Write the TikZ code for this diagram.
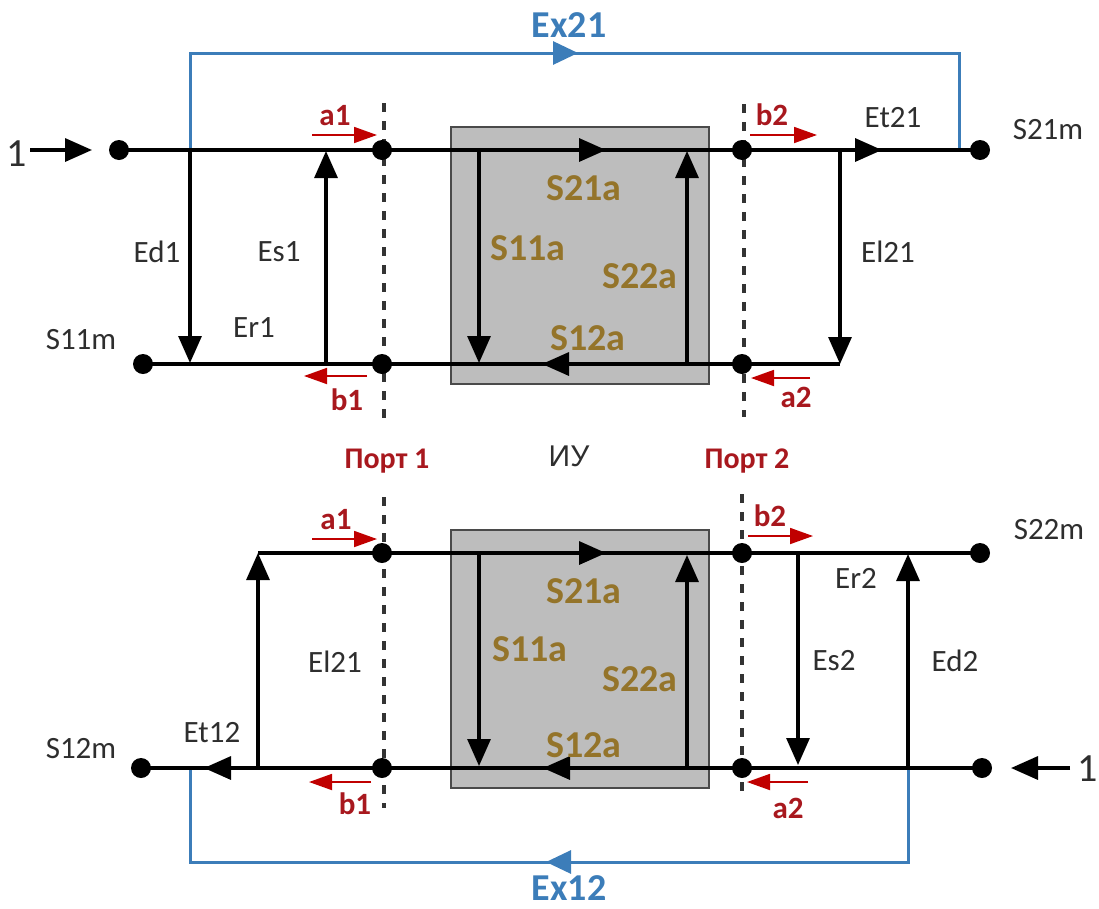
\documentclass[tikz,border=0pt]{standalone}
\usepackage{fontspec}
\setmainfont{Carlito}
\newfontfamily\iufont{Liberation Sans}
\usetikzlibrary{arrows.meta}
\definecolor{brownlab}{HTML}{94742A}
\definecolor{redlab}{HTML}{A8181E}
\definecolor{redarr}{HTML}{C00000}
\definecolor{bluelab}{HTML}{3C7DB9}
\definecolor{boxgray}{HTML}{BDBDBD}
\definecolor{boxedge}{HTML}{4A4A4A}
\definecolor{dashgray}{HTML}{333333}
\tikzset{
  x=1pt,y=-1pt,
  dot/.style={circle,fill=black,inner sep=0pt,minimum size=20pt},
  wire/.style={line width=3.4pt,black},
  thinwire/.style={line width=3.2pt,black},
  bluewire/.style={line width=3pt,bluelab},
  tipb/.style={-{Triangle[length=27pt,width=23pt,inset=0pt]}},
  tipblue/.style={-{Triangle[length=25pt,width=23pt,inset=0pt]}},
  redarrow/.style={line width=1.8pt,redarr,-{Triangle[length=23pt,width=16pt,inset=0pt]}},
  portline/.style={line width=3.2pt,dashgray,dash pattern=on 9pt off 9pt},
  devbox/.style={draw=boxedge,line width=1.6pt,fill=boxgray,inner sep=0pt},
  lab/.style={font=\fontsize{31}{31}\selectfont,text=black!82,inner sep=0pt},
  iulab/.style={font=\iufont\fontsize{30}{30}\selectfont,text=black!82,inner sep=0pt},
  one/.style={font=\fontsize{40}{40}\selectfont,text=black!82,inner sep=0pt},
  slab/.style={font=\fontsize{38}{38}\selectfont\bfseries,text=brownlab,inner sep=0pt},
  rlab/.style={font=\fontsize{31}{31}\selectfont\bfseries,text=redlab,inner sep=0pt},
  plab/.style={font=\fontsize{30}{30}\selectfont\bfseries,text=redlab,inner sep=0pt},
  xlab/.style={font=\fontsize{38}{38}\selectfont\bfseries,text=bluelab,inner sep=0pt},
}
\begin{document}
\begin{tikzpicture}
\useasboundingbox (0,0) rectangle (1099,908);
% device boxes
\node[devbox,minimum width=258pt,minimum height=257pt] (boxA) at (580,255.5) {};
\node[devbox,minimum width=258pt,minimum height=258pt] (boxB) at (580,659) {};
% port lines
\coordinate (pa1) at (384,103); \coordinate (pa2) at (384,422);
\coordinate (pb1) at (744,104); \coordinate (pb2) at (744,417);
\coordinate (pc1) at (384,497); \coordinate (pc2) at (384,808);
\coordinate (pd1) at (742,494); \coordinate (pd2) at (742,799);
\draw[portline] (pa1) -- (pa2);
\draw[portline] (pb1) -- (pb2);
\draw[portline] (pc1) -- (pc2);
\draw[portline] (pd1) -- (pd2);
% TOP dots
\node[dot] (t1) at (119,150) {};
\node[dot] (t2) at (382,150) {};
\node[dot] (t3) at (742,150) {};
\node[dot] (t4) at (980,150) {};
\node[dot] (t5) at (143,364) {};
\node[dot] (t6) at (382,364) {};
\node[dot] (t7) at (742,364) {};
% top junctions
\coordinate (jEd) at (190,150); \coordinate (jEdT) at (190,363);
\coordinate (jEsB) at (326,364); \coordinate (jEsT) at (326,151);
\coordinate (j11) at (479,150); \coordinate (j11T) at (479,363);
\coordinate (j22B) at (687,364); \coordinate (j22T) at (687,151);
\coordinate (jElT) at (840,150); \coordinate (jElB) at (840,364);
\coordinate (h1) at (606,150); \coordinate (h2) at (882,150);
\coordinate (h3) at (542,364);
\coordinate (xa) at (190,53); \coordinate (xb) at (959,53);
\coordinate (xc) at (959,150); \coordinate (xm) at (578,53);
% top blue
\draw[bluewire,line join=miter] (jEd) -- (xa) -- (xb) -- (xc);
\draw[bluewire,tipblue] (xa) -- (xm);
% top wires
\draw[wire] (t1.center) -- (t4.center);
\draw[wire,tipb] (t1.center) -- (h1);
\draw[wire,tipb] (t3.center) -- (h2);
\draw[wire] (t5.center) -- (jElB);
\draw[wire,tipb] (t7.center) -- (h3);
\draw[thinwire,tipb] (jEd) -- (jEdT);
\draw[thinwire,tipb] (jEsB) -- (jEsT);
\draw[thinwire,tipb] (j11) -- (j11T);
\draw[thinwire,tipb] (j22B) -- (j22T);
\draw[thinwire,tipb] (jElT) -- (jElB);
% input 1
\coordinate (ia) at (30,150); \coordinate (ib) at (92,150);
\draw[wire,tipb] (ia) -- (ib);
\node[one] (n1a) at (17,154) {1};
% BOTTOM dots
\coordinate (b1) at (258,553);
\node[dot] (b2) at (382,553) {};
\node[dot] (b3) at (742,553) {};
\node[dot] (b4) at (980,553) {};
\node[dot] (b5) at (141,768) {};
\node[dot] (b6) at (382,768) {};
\node[dot] (b7) at (742,768) {};
\node[dot] (b8) at (982,768) {};
\coordinate (kElB) at (258,768);
\coordinate (k11) at (479,553); \coordinate (k11T) at (479,766);
\coordinate (k22B) at (687,768); \coordinate (k22T) at (687,555);
\coordinate (kEsT) at (798,553); \coordinate (kEsB) at (798,765);
\coordinate (kEdB) at (908,768); \coordinate (kEdT) at (908,554);
\coordinate (g1) at (606,553); \coordinate (g2) at (543,768); \coordinate (g3) at (204,768);
\coordinate (ya) at (908,862); \coordinate (yb) at (190,862);
\coordinate (yc) at (190,768); \coordinate (ym) at (546,862);
% bottom blue
\draw[bluewire] (kEdB) -- (ya) -- (yb) -- (yc);
\draw[bluewire,tipblue] (ya) -- (ym);
% bottom wires
\draw[wire] (b1) -- (b4.center);
\draw[wire,tipb] (b1) -- (g1);
\draw[wire] (b8.center) -- (b5.center);
\draw[wire,tipb] (b8.center) -- (g2);
\draw[wire,tipb] (g2) -- (g3);
\draw[thinwire,tipb] (kElB) -- (b1);
\draw[thinwire,tipb] (k11) -- (k11T);
\draw[thinwire,tipb] (k22B) -- (k22T);
\draw[thinwire,tipb] (kEsT) -- (kEsB);
\draw[thinwire,tipb] (kEdB) -- (kEdT);
% input 1 right
\coordinate (ic) at (1070,768); \coordinate (id) at (1011,768);
\draw[wire,tipb] (ic) -- (id);
\node[one] (n1b) at (1088,769) {1};
% red arrows
\coordinate (ra1) at (312,135); \coordinate (ra2) at (377,135);
\coordinate (rb1) at (367,376); \coordinate (rb2) at (304,376);
\coordinate (rc1) at (750,135); \coordinate (rc2) at (817,135);
\coordinate (rd1) at (810,378); \coordinate (rd2) at (751,378);
\coordinate (re1) at (312,539); \coordinate (re2) at (377,539);
\coordinate (rf1) at (371,782); \coordinate (rf2) at (309,782);
\coordinate (rg1) at (748,536); \coordinate (rg2) at (813,536);
\coordinate (rh1) at (808,782); \coordinate (rh2) at (747,782);
\draw[redarrow] (ra1) -- (ra2);
\draw[redarrow] (rb1) -- (rb2);
\draw[redarrow] (rc1) -- (rc2);
\draw[redarrow] (rd1) -- (rd2);
\draw[redarrow] (re1) -- (re2);
\draw[redarrow] (rf1) -- (rf2);
\draw[redarrow] (rg1) -- (rg2);
\draw[redarrow] (rh1) -- (rh2);
% labels top
\node[xlab] (lx21) at (569,25) {Ex21};
\node[rlab] (la1) at (335,116) {a1};
\node[rlab] (lb1) at (347,400) {b1};
\node[rlab] (lb2) at (772,115) {b2};
\node[rlab] (la2) at (796,397) {a2};
\node[lab] (lEt21) at (893,118) {Et21};
\node[lab] (lS21m) at (1048,130) {S21m};
\node[lab] (lEd1) at (157,252) {Ed1};
\node[lab] (lEs1) at (279,252) {Es1};
\node[lab] (lEr1) at (254,328) {Er1};
\node[lab] (lS11m) at (81,340) {S11m};
\node[lab] (lEl21a) at (888,252) {El21};
\node[slab] (s21a) at (584,188) {S21a};
\node[slab] (s11a) at (528,248) {S11a};
\node[slab] (s22a) at (640,276) {S22a};
\node[slab] (s12a) at (588,338) {S12a};
% middle
\node[plab] (lp1) at (387,461) {Порт 1};
\node[plab] (lp2) at (747,461) {Порт 2};
\node[iulab] (lIU) at (569,456) {ИУ};
% labels bottom
\node[rlab] (la1b) at (336,520) {a1};
\node[rlab] (lb1b) at (355,804) {b1};
\node[rlab] (lb2b) at (770,516) {b2};
\node[rlab] (la2b) at (788,808) {a2};
\node[lab] (lS22m) at (1049,530) {S22m};
\node[lab] (lEr2) at (856,578) {Er2};
\node[lab] (lEs2) at (834,661) {Es2};
\node[lab] (lEd2) at (955,661) {Ed2};
\node[lab] (lEl21b) at (335,662) {El21};
\node[lab] (lEt12) at (212,733) {Et12};
\node[lab] (lS12m) at (81,749) {S12m};
\node[slab] (s21b) at (584,591) {S21a};
\node[slab] (s11b) at (530,649) {S11a};
\node[slab] (s22b) at (640,679) {S22a};
\node[slab] (s12b) at (584,745) {S12a};
\node[xlab] (lx12) at (569,888) {Ex12};
\end{tikzpicture}
\end{document}
